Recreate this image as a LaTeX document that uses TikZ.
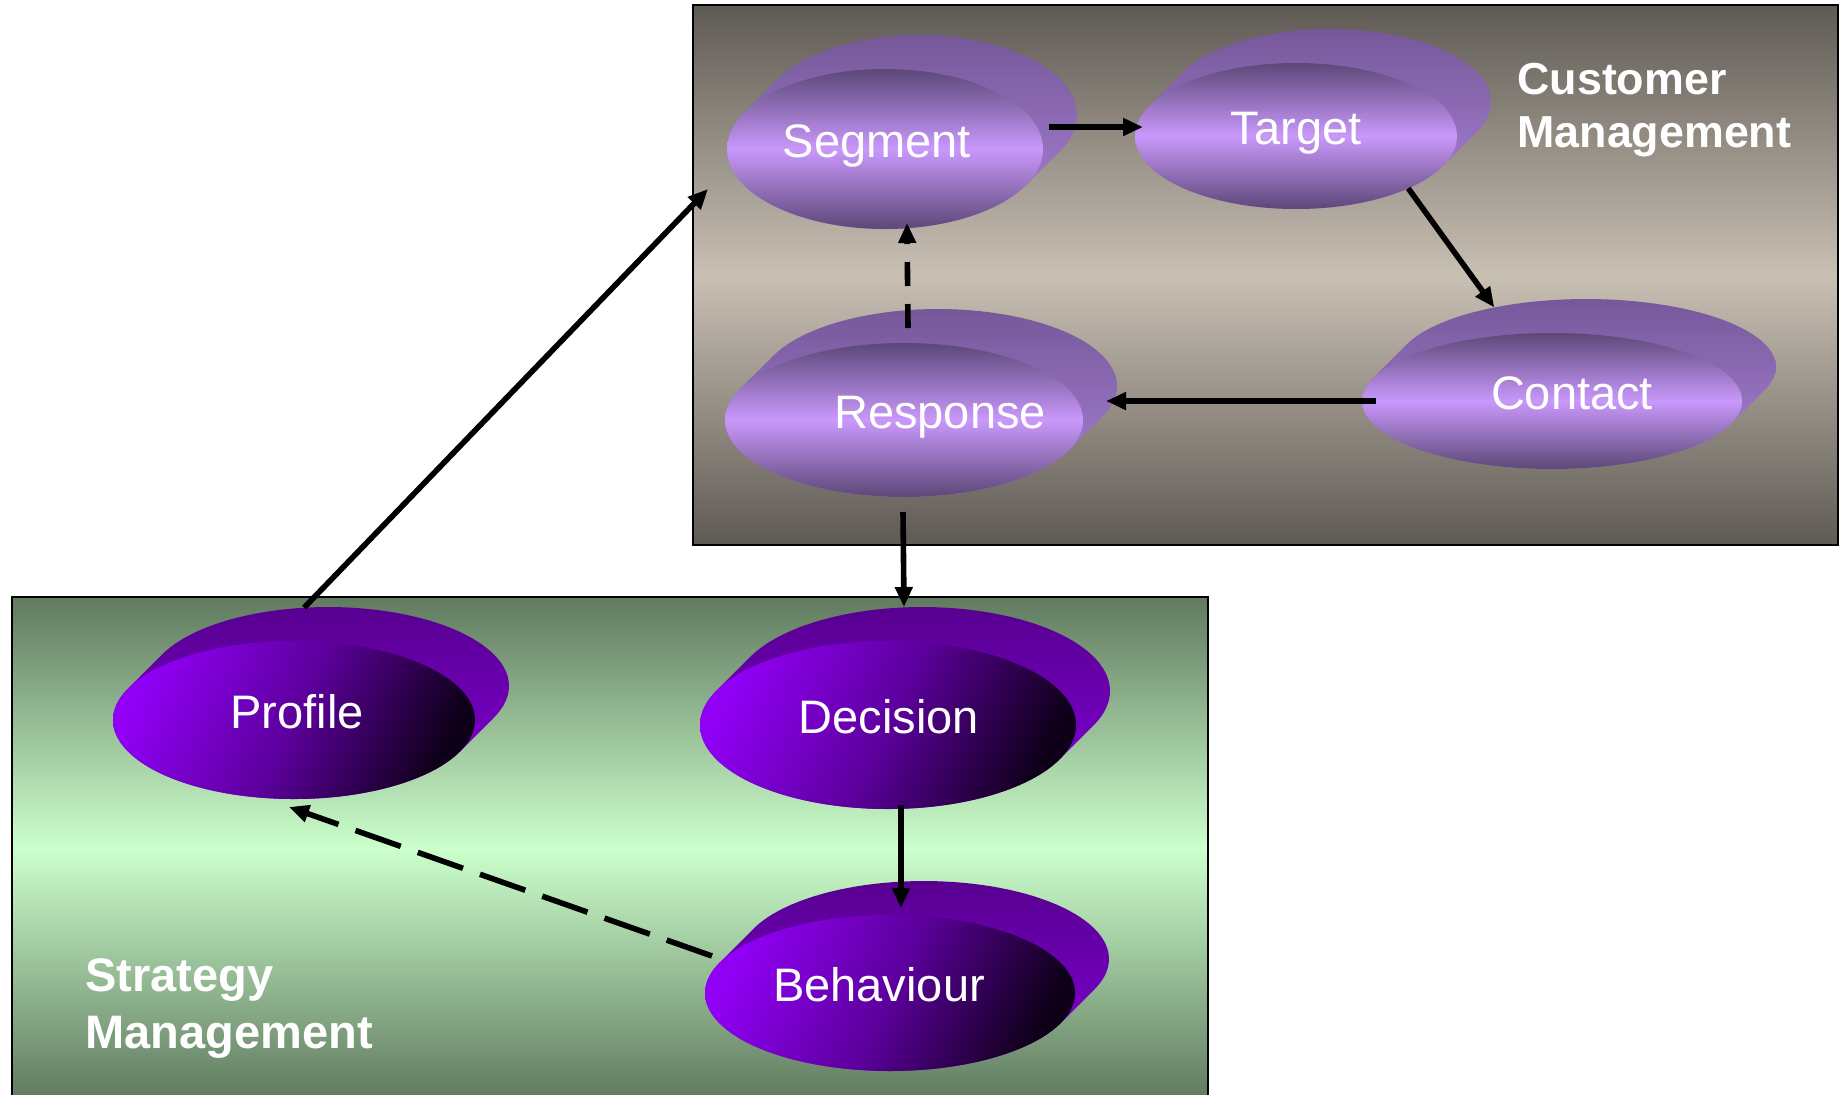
\documentclass[tikz,border=0pt]{standalone}
\usepackage{fontspec}
\setmainfont{Liberation Sans}
\usetikzlibrary{arrows.meta, calc, shapes.geometric}

\definecolor{panelgrey}{HTML}{5E5A54}
\definecolor{panelsand}{HTML}{C9C0B4}
\definecolor{panelmoss}{HTML}{607A5F}
\definecolor{panelmint}{HTML}{CCFFCC}
\definecolor{liteedge}{HTML}{5C4878}
\definecolor{liteglow}{HTML}{C998FB}
\definecolor{literim}{HTML}{76589A}
\definecolor{litelit}{HTML}{A982D6}
\definecolor{deepglow}{HTML}{9000F4}
\definecolor{deepmid}{HTML}{5C009C}
\definecolor{deepdark}{HTML}{0E0018}
\definecolor{deeprim}{HTML}{580090}
\definecolor{deeplit}{HTML}{8200DA}

\begin{document}
\begin{tikzpicture}[
  x=0.5pt, y=-0.5pt,
  >={Triangle[length=10pt, width=8.5pt]},
  panel/.style={draw=black, line width=1pt, anchor=north west, inner sep=0pt, outer sep=0pt},
  custpanel/.style={panel, top color=panelgrey, bottom color=panelgrey, middle color=panelsand},
  stratpanel/.style={panel, top color=panelmoss, bottom color=panelmoss, middle color=panelmint},
  paneltitle/.style={anchor=north west, align=left, inner sep=0pt, text=white},
  rim/.style={ellipse, inner sep=0pt, outer sep=0pt},
  liteface/.style={rim, top color=liteedge, bottom color=liteedge, middle color=liteglow},
  deepface/.style={rim, top color=deepglow, bottom color=deepdark, middle color=deepmid, shading angle=65},
  liteside/.style={top color=literim, bottom color=litelit},
  deepside/.style={top color=deeprim, bottom color=deeplit},
  disctext/.style={anchor=base, inner sep=0pt, text=white, font=\fontsize{23.5}{28}\selectfont},
  flow/.style={->, line width=2.8pt},
  hint/.style={flow, dash pattern=on 24pt off 9pt}
]
  \useasboundingbox (0,0) rectangle (1846,1094);

  %---------------- PANELS ----------------%
  \node[custpanel, minimum width=572.5pt, minimum height=270pt] (custbox) at (693,5) {};
  \node[stratpanel, minimum width=598pt, minimum height=251.5pt] (stratbox) at (12,597) {};

  \node[paneltitle, font=\bfseries\fontsize{22.4}{26.5}\selectfont] (cust-title) at (1517,63) {Customer\\Management};
  \node[paneltitle, font=\bfseries\fontsize{23.5}{28.5}\selectfont] (strat-title) at (85,958) {Strategy\\Management};

  %---------------- DISCS: name/x/y/rx/ry/text shift/text ----------------%
  \foreach \nm/\cx/\cy/\rx/\ry/\tx/\txt in {
      seg/885/149/158/80/-8/Segment,
      tgt/1296/136/161/73/0/Target,
      con/1552/401/190/68/20/Contact,
      resp/904/420/179/77/36/Response}{
    \pgfmathsetmacro\tang{atan(\ry/\rx)}
    \node[rim, minimum width=\rx pt, minimum height=\ry pt] (\nm-back) at (\cx+34,\cy-34) {};
    \path[liteside]
      plot[variable=\t, domain=\tang+180:\tang+360, samples=60] ({\cx+34+\rx*cos(\t)},{\cy-34+\ry*sin(\t)})
      -- plot[variable=\t, domain=\tang:\tang+180, samples=60] ({\cx+\rx*cos(\t)},{\cy+\ry*sin(\t)})
      -- cycle;
    \node[liteface, minimum width=\rx pt, minimum height=\ry pt] (\nm) at (\cx,\cy) {};
    \node[disctext] (\nm-txt) at (\cx+\tx,\cy+8) {\txt};
  }

  \foreach \nm/\cx/\cy/\rx/\ry/\tx/\txt in {
      prof/294/720/181/79/3/Profile,
      dec/888/725/188/84/1/Decision,
      beh/890/993/185/78/-11/Behaviour}{
    \pgfmathsetmacro\tang{atan(\ry/\rx)}
    \node[rim, minimum width=\rx pt, minimum height=\ry pt] (\nm-back) at (\cx+34,\cy-34) {};
    \path[deepside]
      plot[variable=\t, domain=\tang+180:\tang+360, samples=60] ({\cx+34+\rx*cos(\t)},{\cy-34+\ry*sin(\t)})
      -- plot[variable=\t, domain=\tang:\tang+180, samples=60] ({\cx+\rx*cos(\t)},{\cy+\ry*sin(\t)})
      -- cycle;
    \node[deepface, minimum width=\rx pt, minimum height=\ry pt] (\nm) at (\cx,\cy) {};
    \node[disctext] (\nm-txt) at (\cx+\tx,\cy+8) {\txt};
  }

  %---------------- ARROWS ----------------%
  \coordinate (cust-in) at (708,189);

  \draw[flow] ($(seg.east)+(6,-22)$) -- ($(tgt.west)+(8,-9)$);
  \draw[flow] (tgt.-25) -- (con-back.147);
  \draw[flow] ($(con.west)+(14,0)$) -- ($(resp-back.east |- con.west)+(-11,0)$);
  \draw[flow, dash pattern=on 12pt off 9pt] ($(resp.north)+(4,-15)$) -- ($(seg.south)+(22,-6)$);
  \draw[flow] ($(resp.south)+(-1,15)$) -- (resp.south |- dec-back.north);
  \draw[flow] ($(dec.south)+(13,-4)$) -- ($(beh.north)+(11,-7)$);
  \draw[hint] ($(beh.west)+(7,-37)$) -- ($(prof.south)+(-5,8)$);
  \draw[flow] (prof-back.107) -- (cust-in);

\end{tikzpicture}
\end{document}
